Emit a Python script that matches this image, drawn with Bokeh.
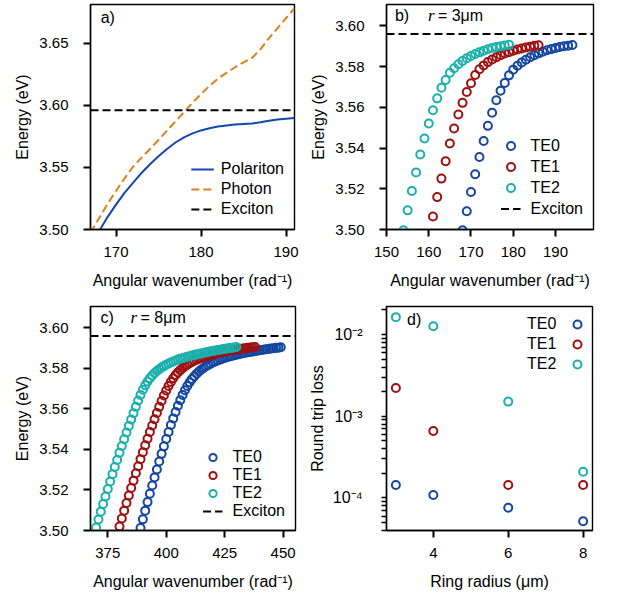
from bokeh.plotting import figure
from bokeh.layouts import column, row
from bokeh.models import (Range1d, FixedTicker, PrintfTickFormatter, Legend, LegendItem,
                          Label, CustomJSTickFormatter)
from bokeh.embed import file_html
from bokeh.resources import INLINE

FONT = "Liberation Sans"
FS = "16px"
FS_TICK = "15px"

C_TE0 = "#1446a0"
C_TE1 = "#9e1010"
C_TE2 = "#1bb0ab"
C_POL = "#1446b0"
C_PHO = "#e27f16"

EXCITON = 3.596

# ---- (a) dispersion of polariton vs bare photon ----
wn_a = [167, 168, 169, 170, 171, 172, 173, 174, 175, 176, 177, 178, 179,
        180, 181, 182, 183, 184, 185, 186, 187, 188, 189, 190, 191]
polariton = [3.4910, 3.4985, 3.5100, 3.5200, 3.5295, 3.5375, 3.5455, 3.5525, 3.5590,
             3.5648, 3.5700, 3.5741, 3.5773, 3.5797, 3.5815, 3.5828, 3.5837, 3.5844,
             3.5849, 3.5853, 3.5862, 3.5874, 3.5884, 3.5891, 3.5897]
photon = [3.4975, 3.5090, 3.5205, 3.5310, 3.5410, 3.5505, 3.5578, 3.5648, 3.5720,
          3.5795, 3.5870, 3.5943, 3.6020, 3.6090, 3.6155, 3.6215, 3.6260, 3.6305,
          3.6345, 3.6380, 3.6450, 3.6540, 3.6620, 3.6700, 3.6780]

# ---- (b) ring radius 3 um ----
wn_b_te0 = list(range(168, 195))
e_b_te0 = [3.4996, 3.5090, 3.5184, 3.5271, 3.5356, 3.5435, 3.5509, 3.5573, 3.5635,
           3.5681, 3.5720, 3.5757, 3.5785, 3.5804, 3.5820, 3.5834, 3.5846, 3.5856,
           3.5865, 3.5873, 3.5880, 3.5886, 3.5891, 3.5896, 3.5900, 3.5903, 3.5906]
wn_b_te1 = list(range(161, 187))
e_b_te1 = [3.5064, 3.5159, 3.5250, 3.5335, 3.5422, 3.5496, 3.5565, 3.5622, 3.5675,
           3.5718, 3.5759, 3.5787, 3.5806, 3.5822, 3.5835, 3.5846, 3.5856, 3.5864,
           3.5871, 3.5878, 3.5884, 3.5889, 3.5894, 3.5898, 3.5902, 3.5905]
wn_b_te2 = list(range(154, 180))
e_b_te2 = [3.4996, 3.5094, 3.5189, 3.5280, 3.5368, 3.5447, 3.5521, 3.5586, 3.5644,
           3.5696, 3.5734, 3.5770, 3.5792, 3.5812, 3.5828, 3.5841, 3.5852, 3.5862,
           3.5870, 3.5878, 3.5885, 3.5891, 3.5896, 3.5900, 3.5904, 3.5907]

# ---- (c) ring radius 8 um ----
wn_c_te0 = list(range(389, 450))
e_c_te0 = [3.5012, 3.5055, 3.5098, 3.5140, 3.5181, 3.5222, 3.5262, 3.5301, 3.5340,
           3.5378, 3.5415, 3.5451, 3.5486, 3.5520, 3.5553, 3.5585, 3.5615, 3.5643,
           3.5669, 3.5692, 3.5713, 3.5731, 3.5747, 3.5761, 3.5773, 3.5784, 3.5794,
           3.5802, 3.5810, 3.5817, 3.5823, 3.5829, 3.5834, 3.5839, 3.5843, 3.5847,
           3.5851, 3.5855, 3.5858, 3.5861, 3.5864, 3.5867, 3.5870, 3.5872, 3.5875,
           3.5877, 3.5879, 3.5881, 3.5883, 3.5885, 3.5887, 3.5889, 3.5891, 3.5893,
           3.5894, 3.5896, 3.5898, 3.5899, 3.5901, 3.5902, 3.5904]
wn_c_te1 = list(range(380, 439))
e_c_te1 = [3.5020, 3.5059, 3.5098, 3.5136, 3.5173, 3.5210, 3.5246, 3.5282, 3.5317,
           3.5352, 3.5386, 3.5420, 3.5453, 3.5486, 3.5518, 3.5549, 3.5580, 3.5610,
           3.5639, 3.5666, 3.5691, 3.5713, 3.5733, 3.5751, 3.5767, 3.5780, 3.5791,
           3.5801, 3.5810, 3.5818, 3.5825, 3.5831, 3.5837, 3.5842, 3.5847, 3.5851,
           3.5855, 3.5859, 3.5863, 3.5866, 3.5869, 3.5872, 3.5875, 3.5878, 3.5880,
           3.5883, 3.5885, 3.5887, 3.5889, 3.5891, 3.5893, 3.5895, 3.5897, 3.5898,
           3.5900, 3.5901, 3.5903, 3.5904, 3.5905]
wn_c_te2 = list(range(370, 431))
e_c_te2 = [3.5015, 3.5054, 3.5093, 3.5131, 3.5168, 3.5205, 3.5242, 3.5278, 3.5313,
           3.5348, 3.5383, 3.5417, 3.5450, 3.5483, 3.5516, 3.5548, 3.5579, 3.5610,
           3.5641, 3.5669, 3.5694, 3.5716, 3.5735, 3.5751, 3.5765, 3.5777, 3.5787,
           3.5796, 3.5804, 3.5811, 3.5818, 3.5824, 3.5829, 3.5834, 3.5839, 3.5843,
           3.5847, 3.5850, 3.5854, 3.5857, 3.5860, 3.5863, 3.5866, 3.5869, 3.5871,
           3.5874, 3.5876, 3.5879, 3.5881, 3.5884, 3.5886, 3.5888, 3.5890, 3.5892,
           3.5894, 3.5896, 3.5898, 3.5900, 3.5902, 3.5903, 3.5905]

# ---- (d) round trip loss vs ring radius ----
radius = [3, 4, 6, 8]
loss_te0 = [1.44e-4, 1.09e-4, 7.6e-5, 5.2e-5]
loss_te1 = [2.22e-3, 6.6e-4, 1.44e-4, 1.44e-4]
loss_te2 = [1.63e-2, 1.26e-2, 1.51e-3, 2.09e-4]

XR_A = (167, 191)
XR_B = (150, 199)
XR_C = (367.6, 455.3)
XR_D = (2.75, 8.25)

WAVE_LABEL = "Angular wavenumber (rad\u207b\u00b9)"


def style(p):
    p.outline_line_color = "black"
    p.outline_line_width = 1.4
    p.outline_line_alpha = 1.0
    p.background_fill_color = "white"
    p.border_fill_color = "white"
    p.xgrid.visible = False
    p.ygrid.visible = False
    for ax in p.axis:
        ax.axis_line_color = "black"
        ax.axis_line_width = 1.4
        ax.major_tick_line_color = "black"
        ax.major_tick_line_alpha = 1.0
        ax.major_tick_line_width = 2
        ax.major_tick_out = 7
        ax.major_tick_in = 0
        ax.minor_tick_out = 0
        ax.major_label_text_font = FONT
        ax.major_label_text_font_size = FS_TICK
        ax.major_label_text_color = "black"
        ax.axis_label_text_font = FONT
        ax.axis_label_text_font_size = FS
        ax.axis_label_text_font_style = "normal"
        ax.axis_label_text_color = "black"
    for ax in p.yaxis:
        ax.major_label_standoff = 15
        ax.axis_label_standoff = 5
    for ax in p.xaxis:
        ax.major_label_standoff = 10
        ax.axis_label_standoff = 12


def make_fig(w, xr, yr, borders, y_type="linear"):
    left, right, top, bottom = borders
    p = figure(width=w, height=300, output_backend="svg", toolbar_location=None,
               x_range=Range1d(*xr), y_range=Range1d(*yr), y_axis_type=y_type,
               min_border_left=left, min_border_right=right,
               min_border_top=top, min_border_bottom=bottom)
    style(p)
    return p


def legend(p, items, row_h, **kw):
    opts = dict(background_fill_alpha=0, border_line_color=None,
                label_text_font=FONT, label_text_font_size=FS, label_text_color="black",
                spacing=0, padding=0, label_height=row_h, glyph_height=row_h)
    opts.update(kw)
    lg = Legend(items=items, **opts)
    p.add_layout(lg, "center")
    return lg


def panel_tag(p, x, y, tag, radius_text=None, rx=None):
    p.add_layout(Label(x=x, y=y, text=tag, text_font=FONT, text_font_size=FS,
                       text_baseline="middle", text_color="black"))
    if radius_text is not None:
        p.add_layout(Label(x=rx, y=y, text="r", text_font="Liberation Serif",
                           text_font_style="italic", text_font_size="17px",
                           text_baseline="middle", text_color="black"))
        p.add_layout(Label(x=rx, y=y, x_offset=10, text=radius_text, text_font=FONT,
                           text_font_size=FS, text_baseline="middle", text_color="black"))


# (a)
pa = make_fig(300, XR_A, (3.5, 3.681), (90, 6, 4, 71))
pa.xaxis.ticker = FixedTicker(ticks=[170, 180, 190])
pa.yaxis.ticker = FixedTicker(ticks=[3.50, 3.55, 3.60, 3.65])
pa.yaxis.formatter = PrintfTickFormatter(format="%.2f")
pa.xaxis.axis_label = WAVE_LABEL
pa.yaxis.axis_label = "Energy (eV)"
r_pol = pa.line(wn_a, polariton, line_color=C_POL, line_width=2)
r_pho = pa.line(wn_a, photon, line_color=C_PHO, line_width=2, line_dash="8 4")
r_exa = pa.line(list(XR_A), [EXCITON, EXCITON], line_color="black", line_width=2, line_dash="8 4")
legend(pa, [LegendItem(label="Polariton", renderers=[r_pol]),
            LegendItem(label="Photon", renderers=[r_pho]),
            LegendItem(label="Exciton", renderers=[r_exa])], 20,
       location="bottom_right", margin=10, glyph_width=23, label_standoff=7)
panel_tag(pa, 168.2, 3.6705, "a)")


def dispersion_panel(w, xr, borders, series, tag, rtext, tag_x, r_x, row_h):
    p = make_fig(w, xr, (3.5, 3.6105), borders)
    p.yaxis.ticker = FixedTicker(ticks=[3.50, 3.52, 3.54, 3.56, 3.58, 3.60])
    p.yaxis.formatter = PrintfTickFormatter(format="%.2f")
    p.xaxis.axis_label = WAVE_LABEL
    p.yaxis.axis_label = "Energy (eV)"
    items = []
    for name, xs, ys, col in series:
        r = p.scatter(xs, ys, size=8, line_width=2, line_color=col, fill_color=None)
        items.append((name, r))
    rex = p.line(list(xr), [EXCITON, EXCITON], line_color="black", line_width=2, line_dash="8 4")
    items.append(("Exciton", rex))
    legend(p, [LegendItem(label=n, renderers=[r]) for n, r in items], row_h,
           location="bottom_right", margin=10, glyph_width=20, label_standoff=10)
    panel_tag(p, tag_x, 3.6050, tag, rtext, r_x)
    return p


pb = dispersion_panel(318, XR_B, (86, 25, 4, 71),
                      [("TE0", wn_b_te0, e_b_te0, C_TE0),
                       ("TE1", wn_b_te1, e_b_te1, C_TE1),
                       ("TE2", wn_b_te2, e_b_te2, C_TE2)],
                      "b)", "= 3\u03bcm", 152.0, 159.8, 21)
pb.xaxis.ticker = FixedTicker(ticks=[150, 160, 170, 180, 190])

pc = dispersion_panel(300, XR_C, (90, 5, 6, 70),
                      [("TE0", wn_c_te0, e_c_te0, C_TE0),
                       ("TE1", wn_c_te1, e_c_te1, C_TE1),
                       ("TE2", wn_c_te2, e_c_te2, C_TE2)],
                      "c)", "= 8\u03bcm", 371.9, 384.7, 18)
pc.xaxis.ticker = FixedTicker(ticks=[375, 400, 425, 450])

# (d)
pd_ = make_fig(318, XR_D, (4.0e-5, 2.2e-2), (86, 26, 6, 70), y_type="log")
pd_.xaxis.ticker = FixedTicker(ticks=[4, 6, 8])
# every decade plus its 2..9 subdivisions get a tick; only decades are labelled
decades = [1e-4, 1e-3, 1e-2]
decade_minor = [m * 10.0 ** e for e in (-5, -4, -3, -2) for m in range(2, 10)]
yax = pd_.yaxis[0]
yax.ticker = FixedTicker(ticks=decades + decade_minor)
yax.major_tick_out = 5
yax.major_tick_line_width = 1.5
yax.major_label_standoff = 19
yax.axis_label_standoff = 4
yax.formatter = CustomJSTickFormatter(code="""
const sup = {'-': '\u207b', '0': '\u2070', '1': '\u00b9', '2': '\u00b2', '3': '\u00b3',
             '4': '\u2074', '5': '\u2075', '6': '\u2076', '7': '\u2077', '8': '\u2078', '9': '\u2079'};
const l = Math.log10(tick);
const e = Math.round(l);
if (Math.abs(l - e) > 1e-6) { return ''; }
return '10' + String(e).split('').map(c => sup[c]).join('');
""")
yax.major_label_text_font_size = "16px"
pd_.xaxis.axis_label = "Ring radius (\u03bcm)"
pd_.yaxis.axis_label = "Round trip loss"
rd0 = pd_.scatter(radius, loss_te0, size=8, line_width=2, line_color=C_TE0, fill_color=None)
rd1 = pd_.scatter(radius, loss_te1, size=8, line_width=2, line_color=C_TE1, fill_color=None)
rd2 = pd_.scatter(radius, loss_te2, size=8, line_width=2, line_color=C_TE2, fill_color=None)

# legend with the names on the left and the marker keys on the right:
# one legend carries the names (no visible key), a second one the marker keys
blank = [pd_.scatter(x=[], y=[], size=1, line_alpha=0, fill_alpha=0) for _ in range(3)]
legend(pd_, [LegendItem(label=n, renderers=[b]) for n, b in zip(["TE0", "TE1", "TE2"], blank)], 20,
       location=(140, 156), margin=0, glyph_width=1, label_standoff=0)
legend(pd_, [LegendItem(label=" ", renderers=[r]) for r in (rd0, rd1, rd2)], 20,
       location=(181, 156), margin=0, glyph_width=20, label_standoff=0,
       label_text_font_size="2px")
pd_.add_layout(Label(x=3.30, y=0.0153, text="d)", text_font=FONT, text_font_size=FS,
                     text_baseline="middle", text_color="black"))

layout = column(row(pa, pb), row(pc, pd_))

with open("out.html", "w") as f:
    f.write(file_html(layout, INLINE))
